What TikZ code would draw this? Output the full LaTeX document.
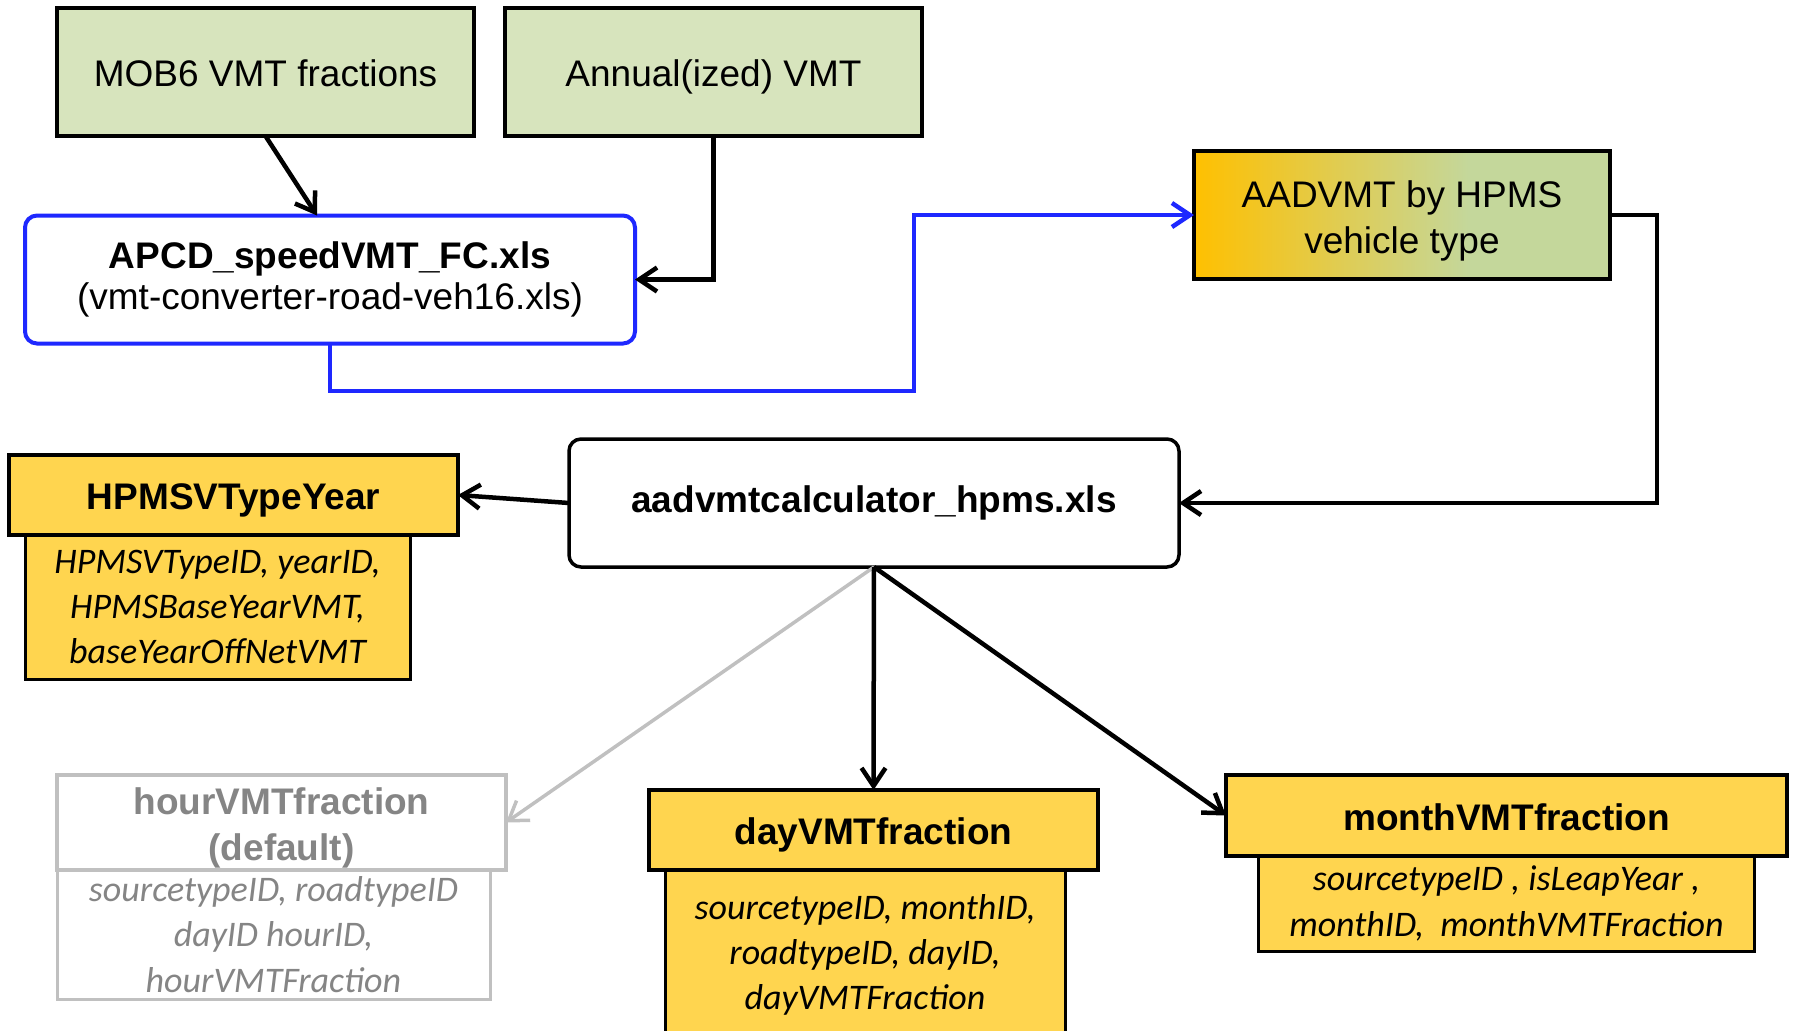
\documentclass[tikz,border=0pt]{standalone}
\usepackage{fontspec}
\setmainfont{Liberation Sans}
\newfontfamily\fieldfont{Carlito}
\usepackage{xcolor}
\usetikzlibrary{arrows.meta, positioning}

\definecolor{srcgreen}{HTML}{D7E4BD}
\definecolor{tableyellow}{HTML}{FFD54F}
\definecolor{aadgold}{HTML}{FFC000}
\definecolor{aadolive}{HTML}{C4D79B}
\definecolor{apcdblue}{HTML}{1E28FF}
\definecolor{fadeline}{HTML}{C0C0C0}
\definecolor{fadetext}{HTML}{858585}
\pgfdeclarehorizontalshading{aadshade}{100bp}{color(0bp)=(aadgold); color(25bp)=(aadgold); color(58bp)=(aadolive); color(100bp)=(aadolive)}

\begin{document}
\begin{tikzpicture}[x=0.5pt, y=-0.5pt]
    \useasboundingbox (0,0) rectangle (1796,1030);
    % Define the style for the nodes
    \tikzstyle{source} = [rectangle, draw, line width=1.75pt, fill=srcgreen, inner sep=0pt, outer sep=0pt, align=center, font=\fontsize{18.5}{23}\selectfont, minimum width=208.5pt, minimum height=64pt]
    \tikzstyle{sheet} = [rectangle, rounded corners=6pt, draw, line width=1.75pt, fill=white, inner sep=0pt, outer sep=0pt, align=center, font=\fontsize{18.5}{20.5}\selectfont, minimum width=305pt, minimum height=64pt]
    \tikzstyle{tablebox} = [rectangle, draw, line width=1.75pt, fill=tableyellow, inner sep=0pt, outer sep=0pt, align=center, font=\bfseries\fontsize{18.5}{23}\selectfont, minimum width=224.5pt, minimum height=40pt]
    \tikzstyle{fields} = [rectangle, draw, line width=1.5pt, fill=tableyellow, inner sep=0pt, outer sep=0pt, align=center, font=\fieldfont\itshape\fontsize{18}{22.6}\selectfont]
    \tikzstyle{faded} = [draw=fadeline, fill=white, text=fadetext]
    \tikzstyle{oneline} = [text height=14.5pt, text depth=0pt]
    \tikzstyle{line} = [draw, line width=2.25pt, -{Straight Barb[length=9pt, width=12pt]}]

    % Place the nodes
    \node [source, oneline] (mob) at (265.5,72) {MOB6 VMT fractions};
    \node [source, oneline] (annual) at (713.5,72) {Annual(ized) VMT};
    \node [sheet, draw=apcdblue, line width=2pt] (apcd) at (330,279.5) {\textbf{APCD\_speedVMT\_FC.xls}\\(vmt-converter-road-veh16.xls)};
    \node [source, shade, shading=aadshade, minimum width=208pt] (aad) at (1402,215) {\rule{0pt}{19pt}AADVMT by HPMS\\vehicle type};
    \node [sheet, font=\bfseries\fontsize{18.5}{23}\selectfont] (calc) at (874,503) {aadvmtcalculator\_hpms.xls};

    \node [tablebox, oneline] (hpmshead) at (233.5,495) {HPMSVTypeYear};
    \node [fields, below=0pt of hpmshead, xshift=-8pt, minimum width=192.5pt, minimum height=72pt] (hpmsbody) {HPMSVTypeID, yearID,\\HPMSBaseYearVMT,\\baseYearOffNetVMT};
    \node [tablebox, oneline] (hpmshead) at (233.5,495) {HPMSVTypeYear};

    \node [tablebox, faded, minimum height=47.5pt] (hourhead) at (281.5,822.5) {\rule{0pt}{19pt}hourVMTfraction\\(default)};
    \node [fields, faded, below=0pt of hourhead, xshift=-4pt, minimum width=216.5pt, minimum height=64.5pt] (hourbody) {sourcetypeID, roadtypeID\\dayID hourID,\\hourVMTFraction};
    \node [tablebox, faded, minimum height=47.5pt] (hourhead) at (281.5,822.5) {\rule{0pt}{19pt}hourVMTfraction\\(default)};

    \node [tablebox, oneline] (dayhead) at (873.5,830) {dayVMTfraction};
    \node [fields, below=0pt of dayhead, xshift=-4.25pt, minimum width=200pt, minimum height=85pt] (daybody) {sourcetypeID, monthID,\\roadtypeID, dayID,\\dayVMTFraction};
    \node [tablebox, oneline] (dayhead) at (873.5,830) {dayVMTfraction};

    \node [tablebox, oneline, minimum width=280.5pt, minimum height=40.5pt] (monthhead) at (1506.5,815.5) {monthVMTfraction};
    \node [fields, below=0pt of monthhead, minimum width=248pt, minimum height=47.5pt] (monthbody) {sourcetypeID , isLeapYear ,\\monthID,\ \ monthVMTFraction};
    \node [tablebox, oneline, minimum width=280.5pt, minimum height=40.5pt] (monthhead) at (1506.5,815.5) {monthVMTfraction};

    % Connect the nodes with paths
    \coordinate (bluebend) at (914,391);
    \path [line] (mob.south) -- ([xshift=-6.5pt]apcd.north);
    \path [line] (annual.south) |- (apcd.east);
    \path [line, draw=apcdblue] (apcd.south) |- (bluebend) |- (aad.west);
    \path [line] (aad.east) -- ++(47,0) |- (calc.east);
    \path [line] (calc.west) -- (hpmshead.east);
    \path [line, draw=fadeline, line width=1.75pt] (calc.south) -- (hourhead.east);
    \path [line] (calc.south) -- (dayhead.north);
    \path [line] (calc.south) -- (monthhead.west);

\end{tikzpicture}
\end{document}
